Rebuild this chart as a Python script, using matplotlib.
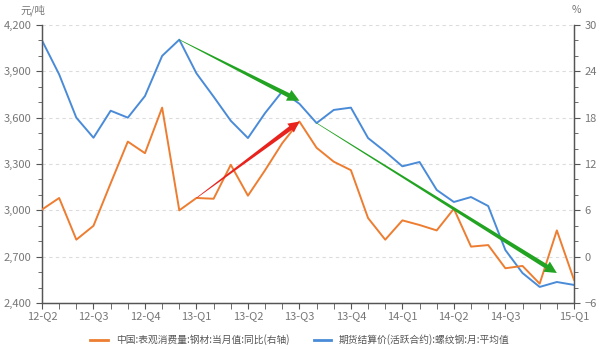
import numpy as np
import matplotlib.pyplot as plt
from matplotlib.patches import Polygon
from matplotlib.ticker import MultipleLocator, FuncFormatter

plt.rcParams['font.family'] = ['Noto Sans CJK SC', 'DejaVu Sans']

# 月度数据 (12-Q2 起)
etiquetas_q = ['12-Q2', '12-Q3', '12-Q4', '13-Q1', '13-Q2', '13-Q3', '13-Q4',
               '14-Q1', '14-Q2', '14-Q3', '15-Q1']
pos_q = [0, 3, 6, 9, 12, 15, 18, 21, 24, 27, 31]

consumo_yoy = [6.1, 7.6, 2.2, 4.0, 9.5, 14.9, 13.4, 19.3, 6.0, 7.6, 7.5, 11.9,
               7.9, 11.2, 14.7, 17.5, 14.1, 12.3, 11.2, 5.0, 2.2, 4.7, 4.1, 3.4,
               6.2, 1.3, 1.5, -1.5, -1.2, -3.5, 3.4, -3.0]
precio_rebar = [4100, 3880, 3600, 3470, 3645, 3600, 3740, 4000, 4105, 3887,
                3736, 3580, 3468, 3630, 3770, 3690, 3565, 3650, 3665, 3468,
                3380, 3285, 3313, 3132, 3054, 3086, 3028, 2743, 2594, 2504,
                2536, 2517]

naranja = '#ED7D31'
azul = '#4A8BD8'
verde = '#22A322'
rojo = '#E8231E'

x = np.arange(len(precio_rebar))

fig = plt.figure(figsize=(6, 3.49), dpi=100)
ax = fig.add_axes([42/600, 1 - 303/349, (574 - 42)/600, (303 - 25)/349])
ax2 = ax.twinx()

ax.plot(x, precio_rebar, color=azul, lw=1.4, zorder=3)
ax2.plot(x, consumo_yoy, color=naranja, lw=1.4, zorder=3)

ax.set_xlim(0, len(x) - 1)
ax.set_ylim(2400, 4200)
ax2.set_ylim(-6, 30)

ax.yaxis.set_major_locator(MultipleLocator(300))
ax.yaxis.set_minor_locator(MultipleLocator(100))
ax.yaxis.set_major_formatter(FuncFormatter(lambda v, p: f'{int(v):,}'))
ax2.yaxis.set_major_locator(MultipleLocator(6))
ax2.yaxis.set_minor_locator(MultipleLocator(2))

ax.set_xticks(x, minor=True)
ax.set_xticks(pos_q)
ax.set_xticklabels(etiquetas_q)

ax.grid(axis='y', which='major', ls=(0, (3, 3)), color='#dcdcdc', lw=0.8)
ax.set_axisbelow(True)

for a in (ax, ax2):
    a.spines['top'].set_visible(False)
    for s in a.spines.values():
        s.set_color('#555555')
        s.set_linewidth(0.9)
    a.tick_params(which='both', colors='#555555', labelsize=8, labelcolor='#777777')
    a.tick_params(which='major', length=4)
    a.tick_params(which='minor', length=3)
ax.tick_params(axis='x', which='both', length=4, pad=2)

fig.text(20/600, 1 - 10/349, '元/吨', fontsize=7.5, color='#777777', va='center')
fig.text(572/600, 1 - 10/349, '%', fontsize=7.5, color='#777777', va='center')


def flecha(a_ini, p0, a_fin, p1, color, w0=0.6, w1=4.5, hw=12, hl=12, dy=0):
    # flecha afilada construida en píxeles y devuelta a datos de ax2
    x0, y0 = a_ini.transData.transform(p0)
    x1, y1 = a_fin.transData.transform(p1)
    y1 += dy
    d = np.array([x1 - x0, y1 - y0])
    u = d / np.hypot(*d)
    n = np.array([-u[1], u[0]])
    a0 = np.array([x0, y0])
    a1 = np.array([x1, y1])
    b = a1 - u * hl
    pts = [a0 + n * w0 / 2, b + n * w1 / 2, b + n * hw / 2, a1,
           b - n * hw / 2, b - n * w1 / 2, a0 - n * w0 / 2]
    pts = ax2.transData.inverted().transform(pts)
    ax2.add_patch(Polygon(pts, closed=True, color=color, lw=0, zorder=5))


flecha(ax, (8, precio_rebar[8]), ax, (15, precio_rebar[15]), verde, dy=3)
flecha(ax2, (9, consumo_yoy[9]), ax2, (15, consumo_yoy[15]), rojo, hw=11, hl=11)
flecha(ax, (16, precio_rebar[16]), ax, (30, precio_rebar[30]), verde, dy=9)

h1, = ax.plot([], [], color=naranja, lw=2)
h2, = ax.plot([], [], color=azul, lw=2)
fig.legend([h1, h2], ['中国:表观消费量:钢材:当月值:同比(右轴)',
                      '期货结算价(活跃合约):螺纹钢:月:平均值'],
           loc='center', bbox_to_anchor=(0.5, 1 - 340/349), ncol=2, frameon=False,
           fontsize=7, handlelength=1.8, columnspacing=2.5, labelcolor='#555555')

fig.savefig('out.png', dpi=100)
